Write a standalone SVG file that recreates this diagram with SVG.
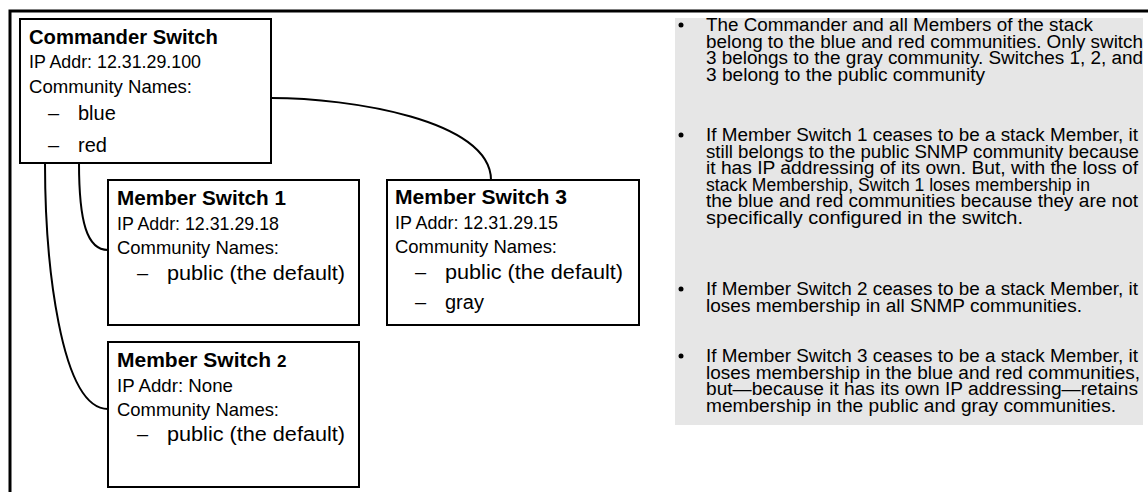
<svg xmlns="http://www.w3.org/2000/svg" width="1148" height="492" viewBox="0 0 1148 492">
<style>
.box{fill:#fff;stroke:#000;stroke-width:2}
.t{font-family:"Liberation Sans",Arial,sans-serif;fill:#000}
.h{font-size:21px;font-weight:bold}
.r{font-size:18.5px}
.i{font-size:20px}
.p{font-size:18px}
.con{fill:none;stroke:#000;stroke-width:2}
</style>
<rect width="1148" height="492" fill="#fff"/>
<g id="frame">
<path d="M10,492 V11 H1148" fill="none" stroke="#000" stroke-width="3"/>
</g>
<g id="connectors">
<path class="con" d="M271,98 C350,98 491,120 491,180"/>
<path class="con" d="M79,163 C79,222 87,250 108,250"/>
<path class="con" d="M45,163 C45,260 60,409 108,409"/>
</g>
<g id="commander">
<rect class="box" x="20" y="19" width="251" height="144"/>
<text class="t h" x="29" y="44" textLength="189" lengthAdjust="spacingAndGlyphs">Commander Switch</text>
<text class="t r" x="29" y="68" textLength="172" lengthAdjust="spacingAndGlyphs">IP Addr: 12.31.29.100</text>
<text class="t r" x="29" y="93" textLength="163" lengthAdjust="spacingAndGlyphs">Community Names:</text>
<text class="t i" x="48" y="120">–</text>
<text class="t i" x="78" y="120">blue</text>
<text class="t i" x="48" y="152">–</text>
<text class="t i" x="78" y="152">red</text>
</g>
<g id="member1">
<rect class="box" x="108" y="180" width="251" height="145"/>
<text class="t h" x="117" y="205" textLength="169" lengthAdjust="spacingAndGlyphs">Member Switch 1</text>
<text class="t r" x="117" y="230" textLength="162" lengthAdjust="spacingAndGlyphs">IP Addr: 12.31.29.18</text>
<text class="t r" x="117" y="254" textLength="162" lengthAdjust="spacingAndGlyphs">Community Names:</text>
<text class="t i" x="137" y="280">–</text>
<text class="t i" x="167" y="280" textLength="178" lengthAdjust="spacingAndGlyphs">public (the default)</text>
</g>
<g id="member3">
<rect class="box" x="387" y="180" width="252" height="145"/>
<text class="t h" x="395" y="204" textLength="172" lengthAdjust="spacingAndGlyphs">Member Switch 3</text>
<text class="t r" x="395" y="229" textLength="163" lengthAdjust="spacingAndGlyphs">IP Addr: 12.31.29.15</text>
<text class="t r" x="395" y="253" textLength="162" lengthAdjust="spacingAndGlyphs">Community Names:</text>
<text class="t i" x="415" y="279">–</text>
<text class="t i" x="445" y="279" textLength="178" lengthAdjust="spacingAndGlyphs">public (the default)</text>
<text class="t i" x="415" y="309">–</text>
<text class="t i" x="445" y="309">gray</text>
</g>
<g id="member2">
<rect class="box" x="108" y="342" width="251" height="145"/>
<text class="t h" x="117" y="367">Member Switch <tspan font-size="17">2</tspan></text>
<text class="t r" x="117" y="392" textLength="116" lengthAdjust="spacingAndGlyphs">IP Addr: None</text>
<text class="t r" x="117" y="416" textLength="162" lengthAdjust="spacingAndGlyphs">Community Names:</text>
<text class="t i" x="137" y="441">–</text>
<text class="t i" x="167" y="441" textLength="178" lengthAdjust="spacingAndGlyphs">public (the default)</text>
</g>
<g id="notes">
<rect x="675" y="18" width="468" height="407" fill="#e6e6e6"/>
<circle cx="681" cy="25" r="2.5" fill="#000"/>
<circle cx="681" cy="135" r="2.5" fill="#000"/>
<circle cx="681" cy="289" r="2.5" fill="#000"/>
<circle cx="681" cy="356" r="2.5" fill="#000"/>
<text class="t p" x="706" y="31" textLength="387" lengthAdjust="spacingAndGlyphs">The Commander and all Members of the stack</text>
<text class="t p" x="706" y="47.5" textLength="437" lengthAdjust="spacingAndGlyphs">belong to the blue and red communities. Only switch</text>
<text class="t p" x="706" y="64" textLength="437" lengthAdjust="spacingAndGlyphs">3 belongs to the gray community. Switches 1, 2, and</text>
<text class="t p" x="706" y="80.5" textLength="279" lengthAdjust="spacingAndGlyphs">3 belong to the public community</text>
<text class="t p" x="706" y="141" textLength="432" lengthAdjust="spacingAndGlyphs">If Member Switch 1 ceases to be a stack Member, it</text>
<text class="t p" x="706" y="157.5" textLength="433" lengthAdjust="spacingAndGlyphs">still belongs to the public SNMP community because</text>
<text class="t p" x="706" y="174" textLength="432" lengthAdjust="spacingAndGlyphs">it has IP addressing of its own. But, with the loss of</text>
<text class="t p" x="706" y="190.5" textLength="384" lengthAdjust="spacingAndGlyphs">stack Membership, Switch 1 loses membership in</text>
<text class="t p" x="706" y="207" textLength="432" lengthAdjust="spacingAndGlyphs">the blue and red communities because they are not</text>
<text class="t p" x="706" y="223.5" textLength="317" lengthAdjust="spacingAndGlyphs">specifically configured in the switch.</text>
<text class="t p" x="706" y="295" textLength="432" lengthAdjust="spacingAndGlyphs">If Member Switch 2 ceases to be a stack Member, it</text>
<text class="t p" x="706" y="311.5" textLength="376" lengthAdjust="spacingAndGlyphs">loses membership in all SNMP communities.</text>
<text class="t p" x="706" y="362" textLength="432" lengthAdjust="spacingAndGlyphs">If Member Switch 3 ceases to be a stack Member, it</text>
<text class="t p" x="706" y="378.5" textLength="434" lengthAdjust="spacingAndGlyphs">loses membership in the blue and red communities,</text>
<text class="t p" x="706" y="395" textLength="432" lengthAdjust="spacingAndGlyphs">but—because it has its own IP addressing—retains</text>
<text class="t p" x="706" y="411.5" textLength="410" lengthAdjust="spacingAndGlyphs">membership in the public and gray communities.</text>
</g>
</svg>
